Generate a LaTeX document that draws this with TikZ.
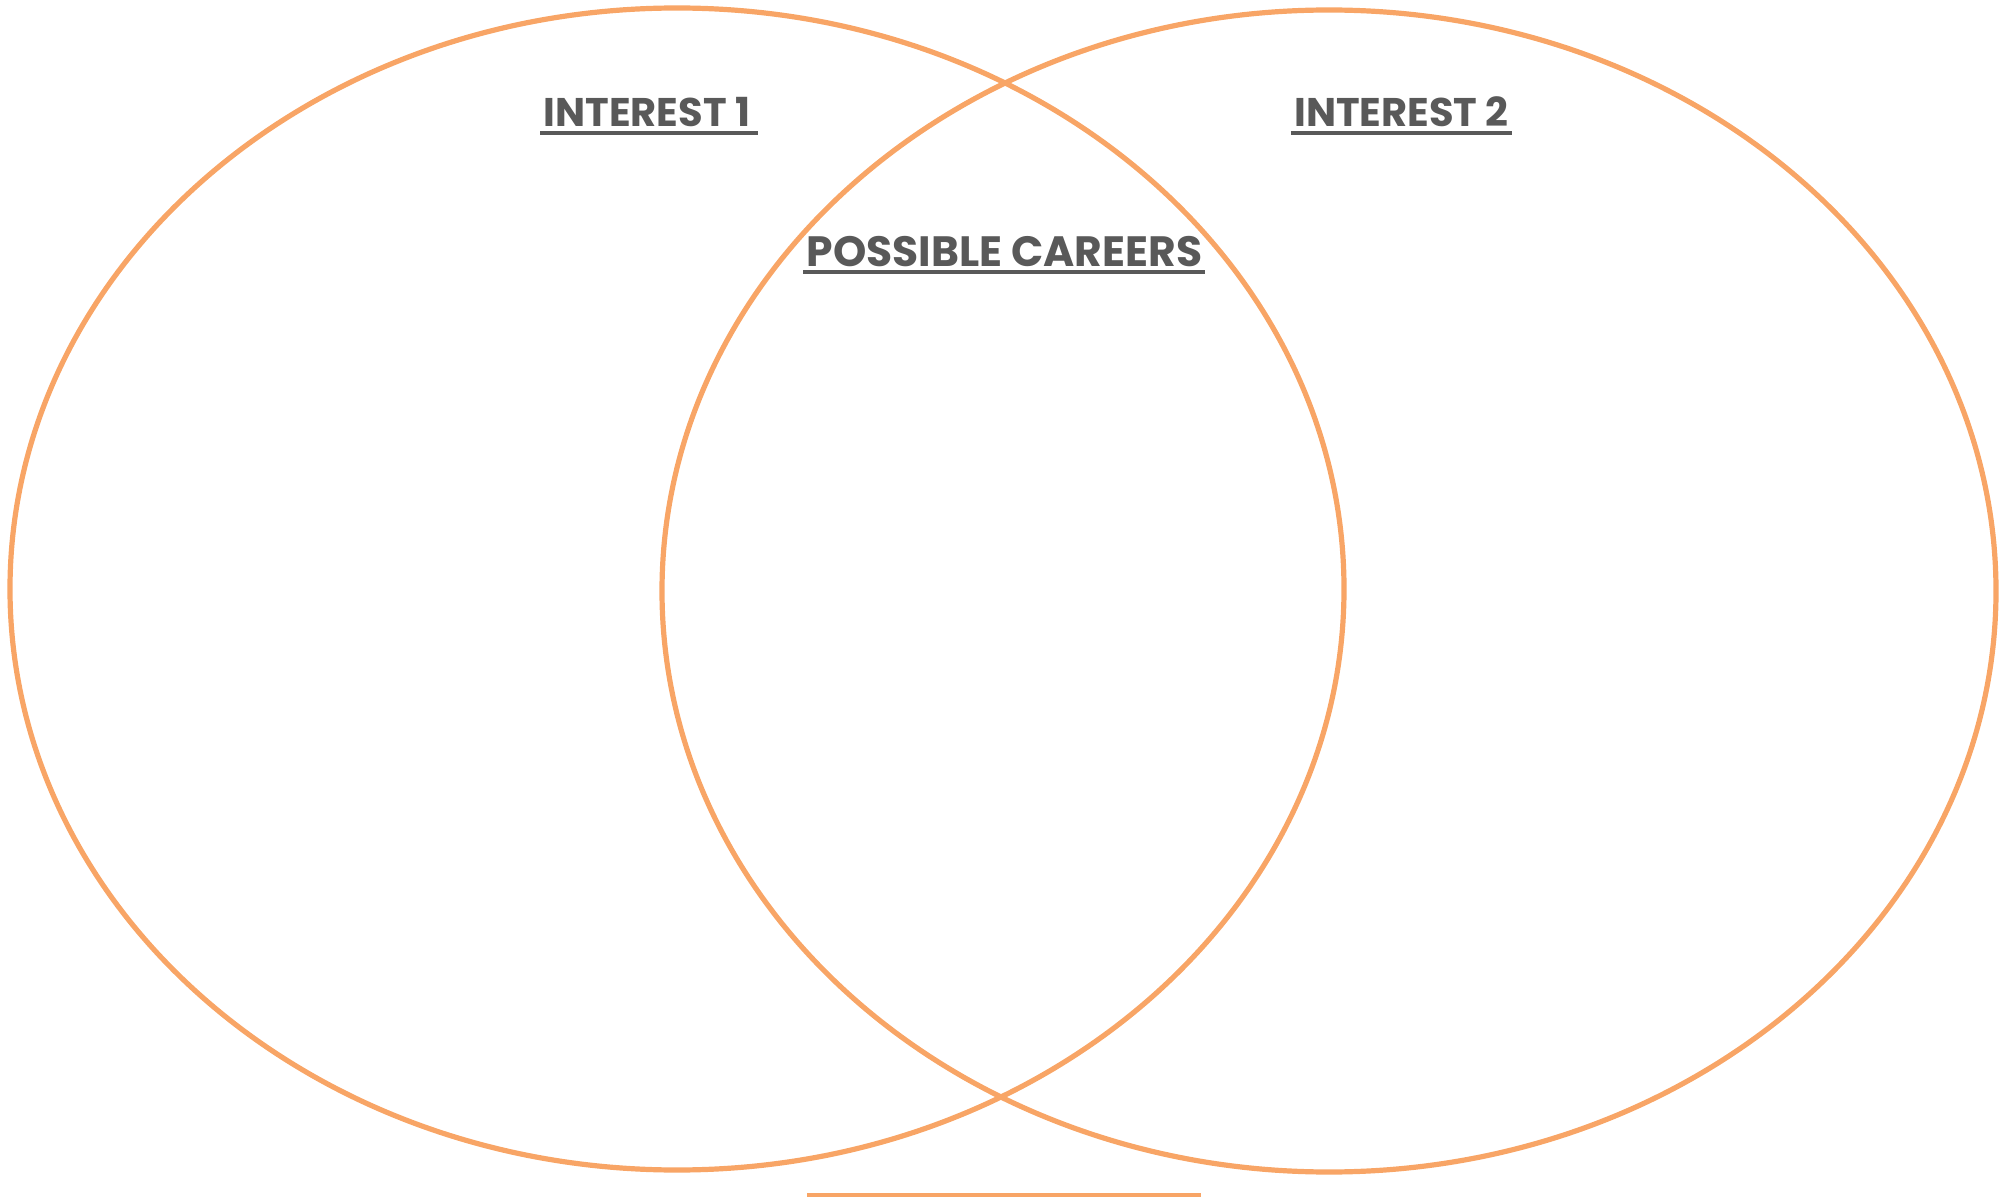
\documentclass[tikz,border=0pt]{standalone}
\usepackage{fontspec}
\setmainfont{Poppins}
\usetikzlibrary{calc}
\definecolor{ringorange}{HTML}{F8A566}
\definecolor{titlegray}{HTML}{595959}
\begin{document}
\begin{tikzpicture}[x=0.5pt,y=-0.5pt,
  ring/.style={draw=ringorange,line width=2.6pt},
  title/.style={inner sep=0pt,anchor=base,text=titlegray,font=\bfseries\fontsize{20}{24}\selectfont},
  uline/.style={draw=titlegray,line width=2pt}]
  \useasboundingbox (0,0) rectangle (2007,1197);
  % the two overlapping circles
  \draw[ring] (677,589) ellipse [x radius=667, y radius=581];
  \draw[ring] (1329,591) ellipse [x radius=667, y radius=581];
  % headings
  \node[title] (t1) at (647,127) {INTEREST 1};
  \node[title] (t2) at (1401.5,127) {INTEREST 2};
  \node[title,font=\bfseries\fontsize{21.2}{25}\selectfont] (tc) at (1004.5,267) {POSSIBLE CAREERS};
  \draw[uline] ($(t1.base west)+(-3,6)$) -- ($(t1.base east)+(7,6)$);
  \draw[uline] ($(t2.base west)+(-3,6)$) -- ($(t2.base east)+(3,6)$);
  \draw[uline] ($(tc.base west)+(-3,5)$) -- ($(tc.base east)+(2,5)$);
  % name line below
  \coordinate (la) at (807,1194.5);
  \coordinate (lb) at (1201,1194.5);
  \draw[draw=ringorange,line width=2pt] (la) -- (lb);
\end{tikzpicture}
\end{document}
